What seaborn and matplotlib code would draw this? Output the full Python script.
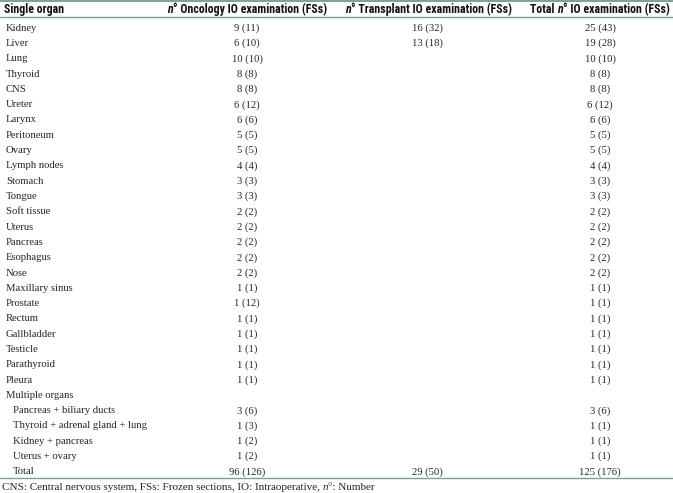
import matplotlib
matplotlib.use("Agg")
import matplotlib.pyplot as plt
from matplotlib import font_manager
import seaborn as sns

# table content
organs = ["Kidney", "Liver", "Lung", "Thyroid", "CNS", "Ureter", "Larynx",
          "Peritoneum", "Ovary", "Lymph nodes", "Stomach", "Tongue",
          "Soft tissue", "Uterus", "Pancreas", "Esophagus", "Nose",
          "Maxillary sinus", "Prostate", "Rectum", "Gallbladder", "Testicle",
          "Parathyroid", "Pleura", "Multiple organs",
          "Pancreas + biliary ducts", "Thyroid + adrenal gland + lung",
          "Kidney + pancreas", "Uterus + ovary", "Total"]
indented = [False] * 25 + [True] * 5

onc_n = [9, 6, 10, 8, 8, 6, 6, 5, 5, 4, 3, 3, 2, 2, 2, 2, 2, 1, 1, 1, 1, 1, 1, 1,
         None, 3, 1, 1, 1, 96]
onc_fs = [11, 10, 10, 8, 8, 12, 6, 5, 5, 4, 3, 3, 2, 2, 2, 2, 2, 1, 12, 1, 1, 1, 1, 1,
          None, 6, 3, 2, 2, 126]
tx_n = [16, 13] + [None] * 27 + [29]
tx_fs = [32, 18] + [None] * 27 + [50]
tot_n = [25, 19, 10, 8, 8, 6, 6, 5, 5, 4, 3, 3, 2, 2, 2, 2, 2, 1, 1, 1, 1, 1, 1, 1,
         None, 3, 1, 1, 1, 125]
tot_fs = [43, 28, 10, 8, 8, 12, 6, 5, 5, 4, 3, 3, 2, 2, 2, 2, 2, 1, 1, 1, 1, 1, 1, 1,
          None, 6, 1, 1, 1, 176]

footnote = "CNS: Central nervous system, FSs: Frozen sections, IO: Intraoperative, "


def cell(n, fs):
    if n is None:
        return ""
    return f"{n} ({fs})"


def has_font(name):
    try:
        font_manager.findfont(font_manager.FontProperties(family=name),
                              fallback_to_default=False)
        return True
    except Exception:
        return False


sns.set_theme(style="white")
plt.rcParams["font.family"] = ["Liberation Serif", "DejaVu Serif"]

# header font: narrow sans if we have one, else shrink a regular sans
head_font, fs_head = "Liberation Sans", 7.6
for name in ["Liberation Sans Narrow", "DejaVu Sans Condensed", "Roboto Condensed"]:
    if has_font(name):
        head_font, fs_head = name, 8.55
        break

W, H = 673, 493
fig = plt.figure(figsize=(W / 100, H / 100), dpi=100)
ax = fig.add_axes([0, 0, 1, 1])
ax.set_xlim(0, W)
ax.set_ylim(H, 0)
ax.axis("off")

rule = "#7b9fa0"
body = "#262626"
fs_body = 7.7

# rules
for y, lw in [(1.0, 1.4), (17.0, 1.0), (477.5, 1.0)]:
    ax.axhline(y, color=rule, lw=lw)


def chained(x, y, parts, **kw):
    t = None
    for s, style in parts:
        if t is None:
            t = ax.text(x, y, s, style=style, va="center", ha="left", **kw)
        else:
            t = ax.annotate(s, xy=(1, 0), xycoords=t, va="bottom", ha="left",
                            style=style, **kw)
    return t


# header
hy = 9.5
hkw = dict(family=head_font, weight="bold", fontsize=fs_head, color="#111111")
ax.text(4, hy, "Single organ", va="center", ha="left", **hkw)
chained(167, hy, [("n", "italic"), ("° Oncology IO examination (FSs)", "normal")], **hkw)
chained(345, hy, [("n", "italic"), ("° Transplant IO examination (FSs)", "normal")], **hkw)
chained(530, hy, [("Total ", "normal"), ("n", "italic"), ("° IO examination (FSs)", "normal")], **hkw)

# body rows
y0, dy = 28.2, 15.3
for i, org in enumerate(organs):
    y = y0 + i * dy
    x = 13 if indented[i] else 6
    ax.text(x, y, org, fontsize=fs_body, va="center", ha="left", color=body)
    ax.text(247, y, cell(onc_n[i], onc_fs[i]), fontsize=fs_body, va="center",
            ha="center", color=body)
    ax.text(427, y, cell(tx_n[i], tx_fs[i]), fontsize=fs_body, va="center",
            ha="center", color=body)
    ax.text(600, y, cell(tot_n[i], tot_fs[i]), fontsize=fs_body, va="center",
            ha="center", color=body)

# footnote
chained(2, 487, [(footnote, "normal"), ("n", "italic"), ("°: Number", "normal")],
        fontsize=8.0, color=body)

plt.savefig("out.png", dpi=100)
plt.close()
